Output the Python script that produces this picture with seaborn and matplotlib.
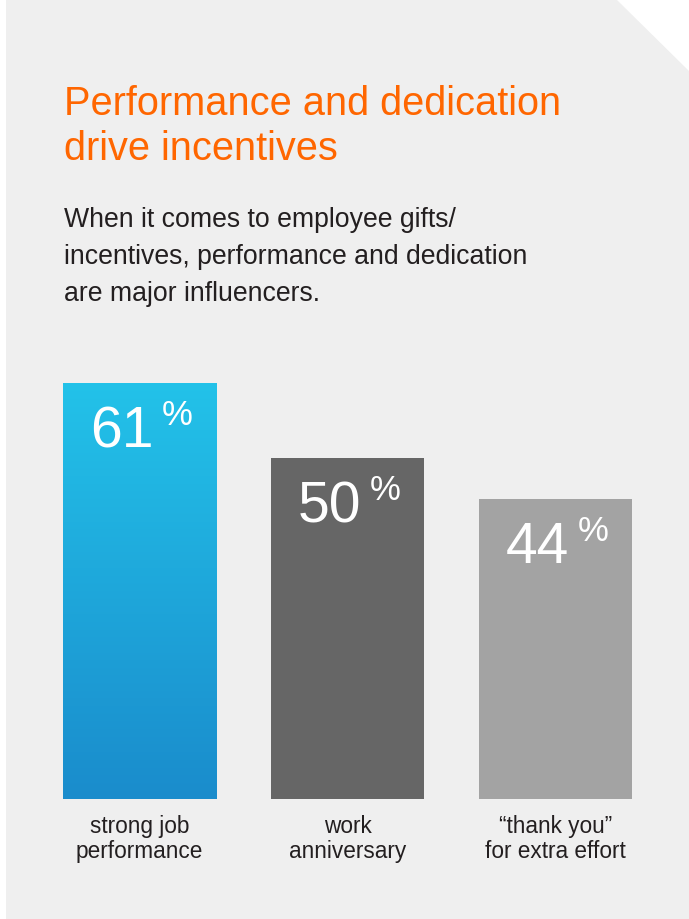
import numpy as np
import pandas as pd
import matplotlib
matplotlib.use("Agg")
import matplotlib.pyplot as plt
from matplotlib.patches import Polygon
from matplotlib.colors import LinearSegmentedColormap
import seaborn as sns

# data
categories = ["strong job\nperformance", "work\nanniversary", "\u201cthank you\u201d\nfor extra effort"]
values = [61, 50, 44]
bar_colors = ["#1f9fdb", "#666666", "#a3a3a3"]

title = "Performance and dedication\ndrive incentives"
subtitle = "When it comes to employee gifts/\nincentives, performance and dedication\nare major influencers."

W, H = 689, 920

sns.set_theme(style="white")
plt.rcParams["font.family"] = ["Liberation Sans", "DejaVu Sans"]

fig = plt.figure(figsize=(W / 100, H / 100), dpi=100)
fig.patch.set_facecolor("white")


def fx(px):
    return px / W


def fy(py):
    return 1 - py / H


# gray panel with cut top-right corner
panel = Polygon([(fx(6), fy(1)), (fx(617), fy(1)), (fx(689), fy(72)),
                 (fx(689), fy(920)), (fx(6), fy(920))],
                closed=True, transform=fig.transFigure,
                facecolor="#efefef", edgecolor="none", zorder=-10)
fig.patches.append(panel)

# multi-line baseline alignment anchors the last line
fig.text(fx(64), fy(160), title, color="#ff6600", fontsize=28.6,
         va="baseline", ha="left", linespacing=1.22)
fig.text(fx(64), fy(301), subtitle, color="#231f20", fontsize=19.2,
         va="baseline", ha="left", linespacing=1.55)

# axes: bar centres at 139.5, 347.5, 556 px; baseline 800 px, 61% top at 384 px
ax = fig.add_axes([fx(35.5), fy(800), fx(624), (800 - 384) / H])
ax.patch.set_alpha(0)

df = pd.DataFrame({"category": categories, "value": values})
sns.barplot(data=df, x="category", y="value", hue="category", palette=bar_colors,
            width=0.74, legend=False, ax=ax, saturation=1, linewidth=0)

ax.set_xlim(-0.5, 2.5)
ax.set_ylim(0, 61)
ax.set_xlabel("")
ax.set_ylabel("")
ax.set_yticks([])
sns.despine(ax=ax, left=True, bottom=True)
ax.tick_params(axis="x", length=0, pad=11, labelsize=16.3, labelcolor="#231f20")
for lab in ax.get_xticklabels():
    lab.set_linespacing(1.08)

# gradient on the first bar
grad = LinearSegmentedColormap.from_list("blue", ["#1a8ccc", "#23c2e9"])
p = ax.patches[0]
x0, w, h = p.get_x(), p.get_width(), p.get_height()
img = ax.imshow(np.linspace(0, 1, 256).reshape(-1, 1), cmap=grad, origin="lower",
                extent=[x0, x0 + w, 0, h], aspect="auto", zorder=p.get_zorder() + 0.1)
img.set_clip_path(p)
ax.set_xlim(-0.5, 2.5)
ax.set_ylim(0, 61)

# value labels: big number + superscript percent
for i, v in enumerate(values):
    ax.annotate(str(v), xy=(i, v), xytext=(10, -45.5), textcoords="offset points",
                ha="right", va="baseline", color="white", fontsize=41, zorder=5)
    ax.annotate("%", xy=(i, v), xytext=(16, -29.5), textcoords="offset points",
                ha="left", va="baseline", color="white", fontsize=25, zorder=5)

fig.savefig("out.png", dpi=100)
